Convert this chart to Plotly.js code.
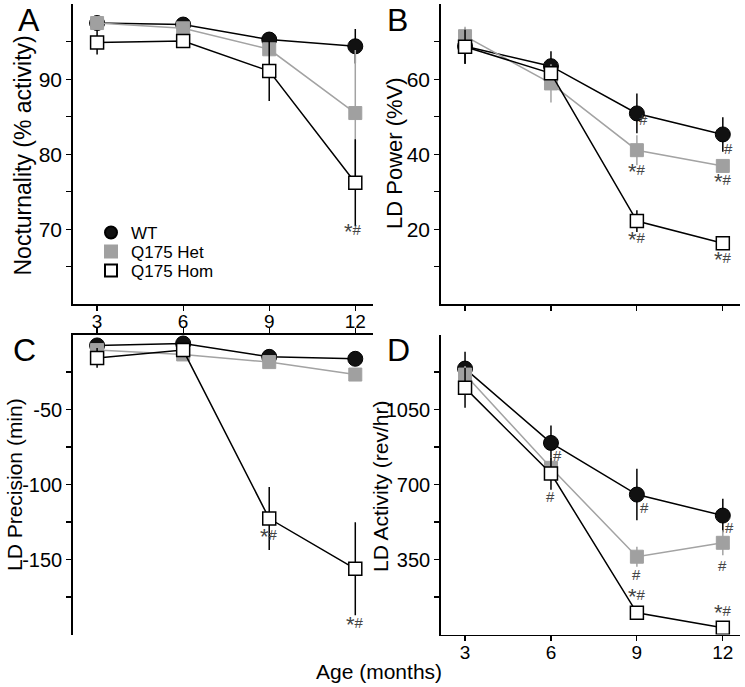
<!DOCTYPE html>
<html>
<head>
<meta charset="utf-8">
<script src="https://cdn.plot.ly/plotly-3.0.1.min.js"></script>
<style>
  html, body { margin: 0; padding: 0; background: #fff; }
  #chart { width: 745px; height: 687px; }
</style>
</head>
<body>
<div id="chart"></div>
<script>
// ---------- data ----------
const months = [3, 6, 9, 12];
const seriesNames = ['WT', 'Q175 Het', 'Q175 Hom'];

// A: Nocturnality (% activity)
const noctWT = [97.5, 97.3, 95.3, 94.4];
const noctWTErr = [0.8, 0.6, 1.0, 2.3];
const noctHet = [97.5, 96.8, 94.0, 85.5];
const noctHetErr = [0.5, 0.6, 0.8, 8.4];
const noctHom = [94.9, 95.1, 91.1, 76.2];
const noctHomErr = [1.6, 0.5, 4.0, 5.8];

// B: LD Power (%V)
const powWT = [68.8, 63.5, 50.9, 45.3];
const powWTErr = [4.7, 4.0, 5.3, 4.6];
const powHet = [71.5, 58.9, 41.1, 36.9];
const powHetErr = [2.5, 5.1, 4.0, 1.5];
const powHom = [68.7, 61.6, 22.2, 16.3];
const powHomErr = [4.5, 1.5, 2.9, 1.0];

// C: LD Precision (min)
const precWT = [-7.3, -6.0, -14.9, -16.2];
const precWTErr = [2, 2, 2, 2];
const precHet = [-10.4, -13.3, -18.4, -26.7];
const precHetErr = [2, 2, 2, 2];
const precHom = [-15.6, -10.4, -122.7, -156.2];
const precHomErr = [6.6, 3, 21, 31];

// D: LD Activity (rev/hr)
const actWT = [1241, 894, 653, 555];
const actWTErr = [78, 81, 120, 78];
const actHet = [1213, 778, 363, 428];
const actHetErr = [40, 50, 47, 58];
const actHom = [1151, 751, 101, 31];
const actHomErr = [93, 75, 20, 10];

// axis titles and tick labels
const yTitles = ['Nocturnality (% activity)', 'LD Power (%V)', 'LD Precision (min)', 'LD Activity (rev/hr)'];
const xTitle = 'Age (months)';
const noctTicks = [65, 70, 75, 80, 85, 90, 95];
const noctTickText = ['', '70', '', '80', '', '90', ''];
const powTicks = [10, 20, 30, 40, 50, 60, 70];
const powTickText = ['', '20', '', '40', '', '60', ''];
const precTicks = [-175, -150, -125, -100, -75, -50, -25];
const precTickText = ['', '-150', '', '-100', '', '-50', ''];
const actTicks = [175, 350, 525, 700, 875, 1050, 1225];
const actTickText = ['', '350', '', '700', '', '1050', ''];

// significance labels: panel, series index, point index, text
const sigPanel = ['A','B','B','B','B','B','B','C','C','D','D','D','D','D','D','D','D'];
const sigSeries = [2, 0, 0, 1, 1, 2, 2, 2, 2, 0, 2, 0, 0, 1, 1, 2, 2];
const sigPoint  = [3, 2, 3, 2, 3, 2, 3, 2, 3, 1, 1, 2, 3, 2, 3, 2, 3];
const sigText   = ['*#','#','#','*#','*#','*#','*#','*#','*#','#','#','#','#','#','#','*#','*#'];

// ---------- styling / layout helpers ----------
const W = 745, H = 687;
const FONT = 'Liberation Sans, Arial, Helvetica, sans-serif';
const fx = p => p / W;
const fy = p => 1 - p / H;

const panels = {
  A: { xa: 'x',  ya: 'y',  vals: [noctWT, noctHet, noctHom], errs: [noctWTErr, noctHetErr, noctHomErr] },
  B: { xa: 'x2', ya: 'y2', vals: [powWT, powHet, powHom],    errs: [powWTErr, powHetErr, powHomErr] },
  C: { xa: 'x3', ya: 'y3', vals: [precWT, precHet, precHom], errs: [precWTErr, precHetErr, precHomErr] },
  D: { xa: 'x4', ya: 'y4', vals: [actWT, actHet, actHom],    errs: [actWTErr, actHetErr, actHomErr] }
};

const styles = [
  { line: '#000000', err: '#000000', fill: '#111111', border: '#000000', symbol: 'circle', size: 15, bw: 1 },
  { line: '#a3a3a3', err: '#a3a3a3', fill: '#a0a0a0', border: '#a0a0a0', symbol: 'square', size: 13, bw: 1 },
  { line: '#000000', err: '#000000', fill: '#ffffff', border: '#000000', symbol: 'square', size: 13, bw: 1.5 }
];
const legendIds = ['legend', 'legend2', 'legend3'];

const traces = [];
Object.keys(panels).forEach(key => {
  const p = panels[key];
  for (let s = 0; s < 3; s++) {
    const st = styles[s];
    traces.push({
      x: months, y: p.vals[s], xaxis: p.xa, yaxis: p.ya,
      type: 'scatter', mode: 'lines', showlegend: false, hoverinfo: 'skip',
      line: { color: st.line, width: 1.5 }
    });
    traces.push({
      x: months, y: p.vals[s], xaxis: p.xa, yaxis: p.ya,
      type: 'scatter', mode: 'markers', name: seriesNames[s],
      showlegend: key === 'A', legend: legendIds[s],
      marker: { symbol: st.symbol, size: st.size, color: st.fill, line: { color: st.border, width: st.bw } },
      error_y: { type: 'data', array: p.errs[s], visible: true, color: st.err, thickness: 1.5, width: 0 }
    });
  }
});

// significance annotations (pixel offsets relative to the data point)
const sigOffsets = [
  [-2, -49],
  [7, -6], [6, -14], [0, -21], [0, -16], [0, -18], [0, -16],
  [0, -18], [0, -56],
  [7, -13], [0, -23], [8, -13], [7, -12], [0, -18], [0, -23], [0, 16], [0, 15]
];
const annotations = sigPanel.map((pk, i) => {
  const p = panels[pk];
  const t = sigText[i].replace('*', "<span style='font-size:22px;baseline-shift:-4px'>*</span>");
  return {
    xref: p.xa, yref: p.ya, x: months[sigPoint[i]], y: p.vals[sigSeries[i]][sigPoint[i]],
    xshift: sigOffsets[i][0], yshift: sigOffsets[i][1],
    text: t, showarrow: false, font: { family: FONT, size: 15, color: '#444' },
    xanchor: 'center', yanchor: 'middle'
  };
});

// panel letters
[['A', 28.5], ['B', 397], ['C', 24], ['D', 398]].forEach(([t, px], i) => {
  annotations.push({ xref: 'paper', yref: 'paper', x: fx(px), y: i < 2 ? fy(0) : fy(329.5), text: t, showarrow: false,
    font: { family: FONT, size: 32, color: '#000' }, xanchor: 'center', yanchor: 'top' });
});
// axis titles
annotations.push({ xref: 'paper', yref: 'paper', x: fx(379), y: fy(671), text: xTitle, showarrow: false,
  font: { family: FONT, size: 21, color: '#000' }, xanchor: 'center', yanchor: 'middle' });
[[22.5, 156, 23], [395, 153, 22], [14, 485, 21], [380, 486, 21]].forEach(([px, py, fs], i) => {
  annotations.push({ xref: 'paper', yref: 'paper', x: fx(px), y: fy(py), text: yTitles[i], textangle: -90,
    showarrow: false, font: { family: FONT, size: fs, color: '#000' }, xanchor: 'center', yanchor: 'middle' });
});

const baseAxis = {
  showline: true, linecolor: '#000', linewidth: 1.5, ticks: 'outside', ticklen: 5, tickwidth: 1.2,
  tickcolor: '#000', showgrid: false, zeroline: false, tickfont: { family: FONT, size: 21, color: '#000' },
  fixedrange: true
};
const xTickFont = { family: FONT, size: 19, color: '#000' };
const xRange = [2.15, 12.6];
const xLeft = [fx(72.7), fx(372.5)], xRight = [fx(440.7), fx(740)];
const yTop = [fy(304.3), fy(4.3)], yBot = [fy(634.5), fy(334.5)];

const legendBase = { x: fx(91), xanchor: 'left', yanchor: 'middle', bgcolor: 'rgba(0,0,0,0)',
  font: { family: FONT, size: 17, color: '#000' }, itemsizing: 'constant' };

const layout = {
  width: W, height: H, margin: { l: 0, r: 0, t: 0, b: 0 },
  paper_bgcolor: '#fff', plot_bgcolor: 'rgba(0,0,0,0)',
  font: { family: FONT, color: '#000' },
  showlegend: true,
  legend:  Object.assign({}, legendBase, { y: fy(233) }),
  legend2: Object.assign({}, legendBase, { y: fy(252) }),
  legend3: Object.assign({}, legendBase, { y: fy(271) }),
  xaxis:  Object.assign({}, baseAxis, { domain: xLeft,  anchor: 'y',  range: xRange, tickvals: months, tickfont: xTickFont, ticklabelstandoff: -6 }),
  xaxis2: Object.assign({}, baseAxis, { domain: xRight, anchor: 'y2', range: xRange, tickvals: months, showticklabels: false }),
  xaxis3: Object.assign({}, baseAxis, { domain: xLeft,  anchor: 'y3', range: xRange, tickvals: months, showticklabels: false, side: 'top' }),
  xaxis4: Object.assign({}, baseAxis, { domain: xRight, anchor: 'y4', range: xRange, tickvals: months, tickfont: xTickFont, ticklabelstandoff: -5 }),
  yaxis:  Object.assign({}, baseAxis, { domain: yTop, anchor: 'x',  range: [60, 100], tickvals: noctTicks, ticktext: noctTickText }),
  yaxis2: Object.assign({}, baseAxis, { domain: yTop, anchor: 'x2', range: [0, 80], tickvals: powTicks, ticktext: powTickText }),
  yaxis3: Object.assign({}, baseAxis, { domain: yBot, anchor: 'x3', range: [-200, 0], tickvals: precTicks, ticktext: precTickText,
    tickfont: { family: FONT, size: 20, color: '#000' } }),
  yaxis4: Object.assign({}, baseAxis, { domain: yBot, anchor: 'x4', range: [0, 1400], tickvals: actTicks, ticktext: actTickText,
    tickfont: { family: FONT, size: 20, color: '#000' } }),
  annotations: annotations
};

Plotly.newPlot('chart', traces, layout, { staticPlot: true, displayModeBar: false });
</script>
</body>
</html>
